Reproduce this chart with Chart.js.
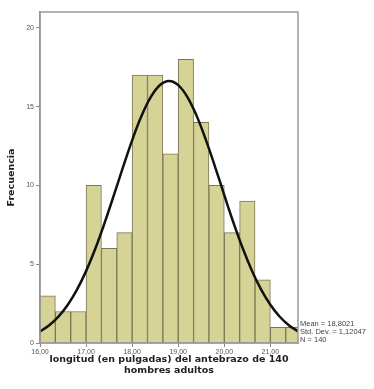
<!DOCTYPE html>
<html><head><meta charset="utf-8">
<script src="https://cdn.jsdelivr.net/npm/chart.js@4/dist/chart.umd.min.js"></script>
<style>html,body{margin:0;padding:0;background:#fff;}canvas{display:block;}</style>
</head><body>
<canvas id="c" width="374" height="389"></canvas>
<script>
// Histogram bins (bin centers, width 1/3 inch) and frequencies
const binStarts = [16.0, 16.3333, 16.6667, 17.0, 17.3333, 17.6667, 18.0, 18.3333, 18.6667, 19.0, 19.3333, 19.6667, 20.0, 20.3333, 20.6667, 21.0, 21.3333];
const binWidth = 1/3;
const frequencies = [3, 2, 2, 10, 6, 7, 17, 17, 12, 18, 14, 10, 7, 9, 4, 1, 1];
// Normal curve
const curveX = [16.0,16.2,16.4,16.6,16.8,17.0,17.2,17.4,17.6,17.8,18.0,18.2,18.4,18.6,18.8,19.0,19.2,19.4,19.6,19.8,20.0,20.2,20.4,20.6,20.8,21.0,21.2,21.4,21.6];
const curveY = [0.73,1.12,1.67,2.41,3.37,4.56,5.98,7.60,9.35,11.14,12.86,14.38,15.58,16.35,16.62,16.36,15.60,14.41,12.89,11.18,9.38,7.63,6.01,4.59,3.39,2.43,1.68,1.13,0.74];
const xTicks = [16, 17, 18, 19, 20, 21];
const yTicks = [0, 5, 10, 15, 20];
const statsLines = ["Mean = 18,8021", "Std. Dev. = 1,12047", "N = 140"];
const xTitle = ["longitud (en pulgadas) del antebrazo de 140", "hombres adultos"];
const yTitle = "Frecuencia";

const barData = binStarts.map((s, i) => ({x: s + binWidth/2, y: frequencies[i]}));
const lineData = curveX.map((x, i) => ({x: x, y: curveY[i]}));

const boxPlugin = {
  id: 'box',
  afterDatasetsDraw(chart) {
    const {ctx, chartArea: a} = chart;
    ctx.save();
    ctx.strokeStyle = '#9a9a9a';
    ctx.lineWidth = 1.5;
    ctx.strokeRect(a.left, a.top, a.right - a.left, a.bottom - a.top);
    ctx.fillStyle = '#444';
    ctx.font = '7.5px "Liberation Sans", Arial, sans-serif';
    ctx.textBaseline = 'middle';
    ctx.textAlign = 'left';
    statsLines.forEach((t, i) => ctx.fillText(t, a.right + 2, a.bottom - 19 + i * 8));
    ctx.restore();
  }
};

new Chart(document.getElementById('c'), {
  type: 'bar',
  data: {
    datasets: [
      {type: 'line', data: lineData, borderColor: '#111', borderWidth: 2.5, pointRadius: 0, tension: 0.4, fill: false, order: 0},
      {type: 'bar', data: barData, backgroundColor: '#d6d396', borderColor: '#7d7655', borderWidth: 1, barPercentage: 1, categoryPercentage: 1, order: 1}
    ]
  },
  options: {
    responsive: false,
    animation: false,
    devicePixelRatio: 1,
    layout: {padding: {left: 0, right: 76, top: 12, bottom: 13}},
    plugins: {legend: {display: false}, tooltip: {enabled: false}},
    scales: {
      x: {
        type: 'linear', min: 16, max: 21.6, offset: false,
        afterBuildTicks(s) { s.ticks = xTicks.map(v => ({value: v})); },
        afterFit(s) { s.height = 33; },
        ticks: {
          callback: v => v.toFixed(2).replace('.', ','),
          color: '#555', font: {size: 7, family: '"Liberation Sans", Arial, sans-serif'}, padding: 1, maxRotation: 0
        },
        grid: {display: true, drawOnChartArea: false, tickLength: 4, color: '#888', offset: false},
        border: {display: true, color: '#888', width: 1.5},
        title: {display: true, text: xTitle, color: '#222', padding: {top: 1, bottom: 0},
          font: {size: 9.5, weight: 'bold', family: '"DejaVu Sans", Verdana, sans-serif', lineHeight: 1.15}}
      },
      y: {
        min: 0, max: 21,
        afterBuildTicks(s) { s.ticks = yTicks.map(v => ({value: v})); },
        afterFit(s) { s.width = 40; },
        ticks: {color: '#555', font: {size: 7, family: '"Liberation Sans", Arial, sans-serif'}, padding: 2},
        grid: {display: true, drawOnChartArea: false, tickLength: 4, color: '#888'},
        border: {display: true, color: '#888', width: 1.5},
        title: {display: true, text: yTitle, color: '#222', padding: {top: 6, bottom: 8},
          font: {size: 9.5, weight: 'bold', family: '"DejaVu Sans", Verdana, sans-serif'}}
      }
    }
  },
  plugins: [boxPlugin]
});
</script>
</body></html>
